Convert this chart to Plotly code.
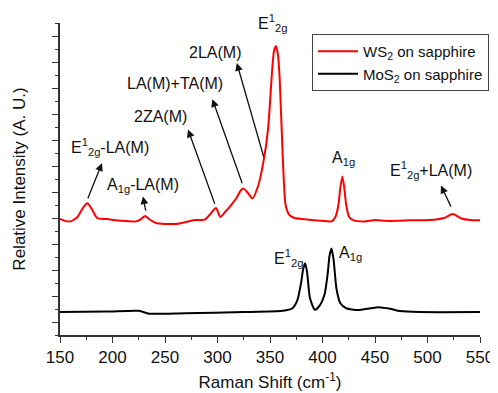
import plotly.graph_objects as go

# WS2 on sapphire (red), offset trace
ws2_x = [150, 154.7, 160.2, 166.7, 172.3, 176, 179.8, 185.3, 194.7, 208.6, 222.6, 227.2, 231, 234.7,
         241.2, 259.8, 278.4, 287.7, 292.3, 296, 298.8, 302.6, 307.2, 312.8, 318.4, 322.1, 324.9,
         328.6, 333.3, 338.8, 343.5, 348.1, 351.9, 353.7, 355.6, 357.5, 359.3, 362.1, 364.9, 368.6,
         373.3, 380.7, 390, 399.3, 408.6, 412.3, 415.1, 417, 418.9, 420.7, 422.6, 425.4, 429.1,
         439.3, 450.5, 459.8, 470.9, 483, 501.6, 515.6, 524, 532.3, 540.7, 550]
ws2_y = [3.96, 3.89, 3.87, 4.04, 4.42, 4.57, 4.38, 4.0, 3.96, 3.89, 3.87, 3.96, 4.08, 3.96,
         3.81, 3.77, 3.92, 3.94, 4.11, 4.3, 4.38, 4.04, 4.23, 4.49, 4.79, 5.06, 5.13,
         4.98, 4.75, 5.25, 6.11, 7.40, 9.6, 10.4, 10.62, 10.3, 9.3, 6.38, 4.49, 4.11,
         4.0, 3.96, 3.92, 3.89, 3.87, 4.04, 4.49, 5.17, 5.6, 5.17, 4.49, 4.04, 3.92,
         3.87, 3.92, 3.89, 3.89, 3.91, 3.92, 4.0, 4.15, 3.98, 3.92, 3.91]

# MoS2 on sapphire (black)
mos2_x = [150, 194.7, 225.3, 234.7, 269.1, 324.9, 362.1, 371.4, 376, 379.8, 381.6, 383.5, 385.3,
          388.1, 392.8, 397.4, 402.1, 404.9, 406.7, 408.6, 410.5, 413.3, 417, 422.6, 433.7,
          445.8, 453.3, 464.4, 473.7, 492.3, 550]
mos2_y = [0.38, 0.40, 0.43, 0.32, 0.34, 0.38, 0.43, 0.53, 0.83, 1.55, 2.04, 2.26, 1.92,
          0.91, 0.47, 0.64, 1.09, 1.85, 2.55, 2.83, 2.42, 1.28, 0.72, 0.53, 0.46,
          0.53, 0.57, 0.51, 0.42, 0.38, 0.38]

x_ticks = [150, 200, 250, 300, 350, 400, 450, 500, 550]

FONT = "Arial, Liberation Sans, sans-serif"

fig = go.Figure()
fig.add_trace(go.Scatter(x=ws2_x, y=ws2_y, mode="lines", name="WS<sub>2</sub> on sapphire",
                         line=dict(color="#ff0000", width=2, shape="spline", smoothing=0.6)))
fig.add_trace(go.Scatter(x=mos2_x, y=mos2_y, mode="lines", name="MoS<sub>2</sub> on sapphire",
                         line=dict(color="#000000", width=2, shape="spline", smoothing=0.6)))

# arrows: (tail x, tail y, head x, head y)
arrows = [
    (176, 4.70, 190, 6.11),
    (231.9, 4.23, 229, 4.83),
    (297.9, 4.49, 271.9, 7.40),
    (324, 5.28, 295.1, 8.57),
    (344.4, 6.30, 318.4, 9.96),
    (523, 4.38, 512.8, 5.25),
]
annotations = []
for tx, ty, hx, hy in arrows:
    annotations.append(dict(x=hx, y=hy, ax=tx, ay=ty, xref="x", yref="y", axref="x", ayref="y",
                            text="", showarrow=True, arrowhead=2, arrowsize=1.2, arrowwidth=1.3,
                            arrowcolor="#111111", standoff=0, startstandoff=0))

labels = [
    ("E<sup>1</sup><sub>2g</sub>-LA(M)", 197.4, 6.72),
    ("A<sub>1g</sub>-LA(M)", 229, 5.25),
    ("2ZA(M)", 245.8, 7.89),
    ("LA(M)+TA(M)", 259.8, 9.17),
    ("2LA(M)", 297.9, 10.38),
    ("E<sup>1</sup><sub>2g</sub>", 352.8, 11.5),
    ("A<sub>1g</sub>", 419.8, 6.3),
    ("E<sup>1</sup><sub>2g</sub>+LA(M)", 503.5, 5.85),
    ("E<sup>1</sup><sub>2g</sub>", 367.7, 2.45),
    ("A<sub>1g</sub>", 426.3, 2.65),
]
for t, x, y in labels:
    annotations.append(dict(x=x, y=y, xref="x", yref="y", text=t, showarrow=False,
                            font=dict(family=FONT, size=16, color="#111111"),
                            xanchor="center", yanchor="middle"))

fig.update_layout(
    width=498, height=393,
    margin=dict(l=52, r=16, t=15, b=60),
    paper_bgcolor="white", plot_bgcolor="white",
    font=dict(family=FONT, size=16, color="#111111"),
    showlegend=True,
    legend=dict(x=0.6, y=0.965, xanchor="left", yanchor="top",
                bordercolor="#444444", borderwidth=1, bgcolor="white",
                font=dict(family=FONT, size=15, color="#111111"),
                tracegroupgap=0, itemwidth=40),
    annotations=annotations,
    xaxis=dict(range=[150, 550], tickvals=x_ticks, ticktext=[str(v) for v in x_ticks],
               ticks="outside", ticklen=6, tickwidth=1.3, tickcolor="#333333",
               minor=dict(dtick=25, tick0=150, ticks="outside", ticklen=3, tickcolor="#333333", showgrid=False),
               showline=True, linecolor="#333333", linewidth=1.5, mirror=False,
               showgrid=False, zeroline=False,
               tickfont=dict(family=FONT, size=17, color="#111111"),
               title=dict(text="Raman Shift (cm<sup>-1</sup>)", font=dict(family=FONT, size=17), standoff=10)),
    yaxis=dict(range=[-0.5, 11.5], dtick=1, tick0=0, showticklabels=False,
               ticks="outside", ticklen=6, tickwidth=1.3, tickcolor="#333333",
               minor=dict(dtick=0.5, tick0=0, ticks="outside", ticklen=3, tickcolor="#333333", showgrid=False),
               showline=True, linecolor="#333333", linewidth=1.5, mirror=False,
               showgrid=False, zeroline=False,
               title=dict(text="Relative Intensity (A. U.)", font=dict(family=FONT, size=17), standoff=22)),
)

fig.write_html("out.html")
